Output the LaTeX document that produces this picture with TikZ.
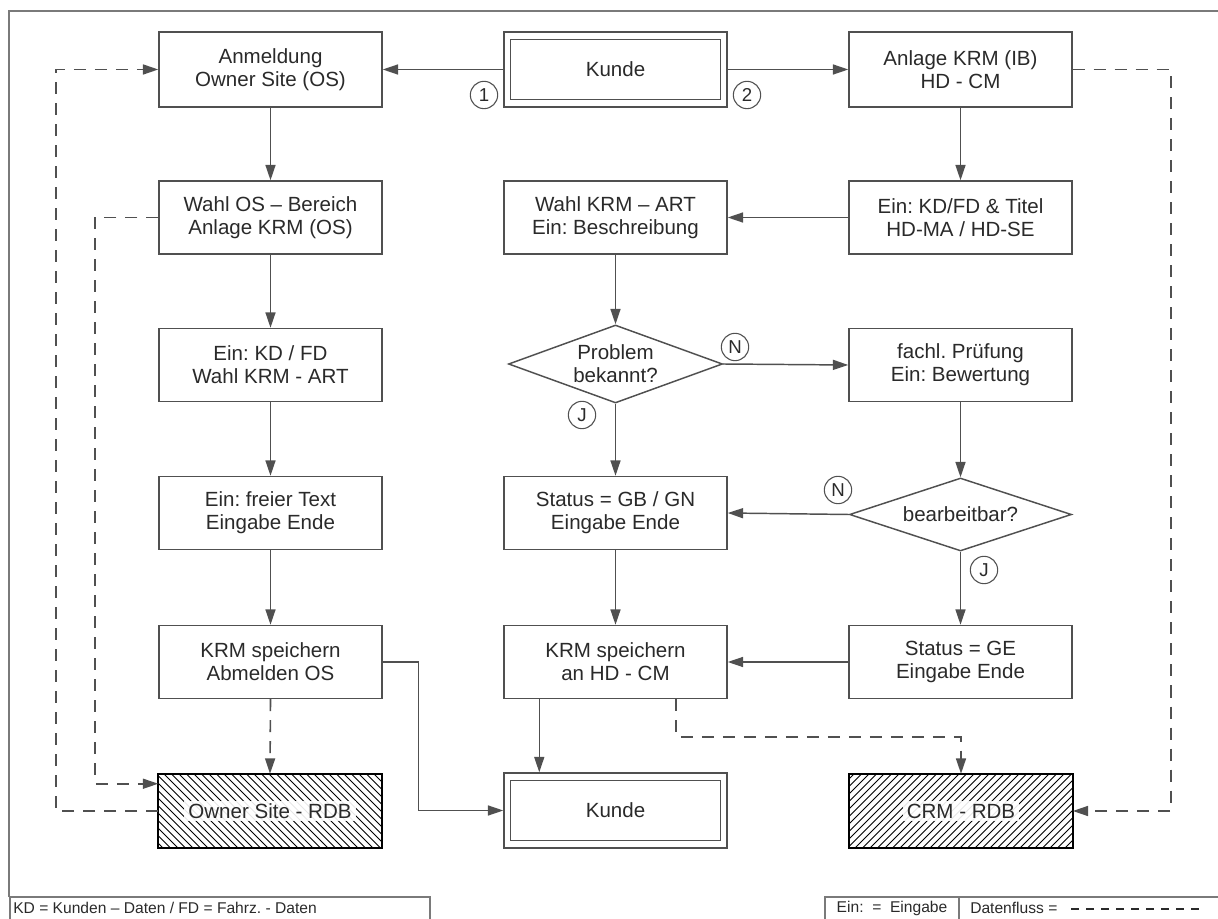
\documentclass[tikz,border=0pt]{standalone}
\usepackage{fontspec}
\setmainfont{Liberation Sans}
\frenchspacing
\usetikzlibrary{arrows.meta,shapes.geometric,calc}
\definecolor{linegray}{HTML}{505050}
\definecolor{framegray}{HTML}{7A7A7A}
\definecolor{txtgray}{HTML}{2A2A2A}
\begin{document}
\begin{tikzpicture}[x=0.75pt,y=-0.75pt,
  >={Triangle[length=11.5pt,width=7.5pt]},
  every node/.style={text=txtgray, font=\fontsize{15.4}{17.4}\selectfont},
  procbox/.style={draw=linegray, line width=1.1pt, fill=white, align=center,
    minimum width=167.25pt, minimum height=54.75pt, inner sep=0pt},
  topbox/.style={procbox, minimum height=56.25pt},
  dbbox/.style={minimum width=167.25pt, minimum height=55.5pt, inner sep=0pt},
  dbframe/.style={black, line width=1.6pt},
  hatch/.style={black, line width=0.6pt},
  decision/.style={diamond, draw=linegray, line width=1.1pt, fill=white, inner sep=0pt},
  dbtext/.style={fill=white, fill opacity=0.9, text opacity=1, inner xsep=3pt, inner ysep=2pt},
  marker/.style={circle, draw=linegray, line width=0.8pt, minimum size=20.5pt,
    inner sep=0pt, font=\fontsize{14}{15}\selectfont},
  conn/.style={draw=linegray, line width=1.1pt},
  dconn/.style={draw=linegray, line width=1.2pt, dash pattern=on 9pt off 6.75pt},
  legendtext/.style={font=\fontsize{11.7}{13}\selectfont, inner sep=0pt},
]
\clip (0,0) rectangle (1218,919);

% outer frame
\draw[framegray, line width=1.5pt] (9,897) -- (9,11) -- (1230,11);

% top row
\node[topbox] (anm) at (270.5,69.5) {Anmeldung\\Owner Site (OS)};
\node[topbox] (k1) at (615.5,69.5) {Kunde};
\draw[linegray, line width=1.1pt] ($(k1.north west)+(7,8)$) rectangle ($(k1.south east)+(-7,-8)$);
\node[topbox] (anl) at (960.5,69.5) {Anlage KRM (IB)\\HD - CM};

% second row
\node[procbox] (wos) at (270.5,217.5) {Wahl OS – Bereich\\Anlage KRM (OS)};
\node[procbox] (wkr) at (615.5,217.5) {Wahl KRM – ART\\Ein: Beschreibung};
\node[procbox] (ekt) at (960.5,217.5) {Ein: KD/FD \& Titel\\HD-MA / HD-SE};

% third row
\node[procbox] (ekd) at (270.5,365) {Ein: KD / FD\\Wahl KRM - ART};
\node[decision, minimum width=160.5pt, minimum height=58.5pt] (pb) at (615.5,364) {};
\node[align=center, inner sep=0pt] (pbt) at (pb) {Problem\\bekannt?};
\node[procbox] (fp) at (960.5,365) {fachl. Prüfung\\Ein: Bewertung};

% fourth row
\node[procbox] (eft) at (270.5,513) {Ein: freier Text\\Eingabe Ende};
\node[procbox] (sgb) at (615.5,513) {Status = GB / GN\\Eingabe Ende};
\node[decision, minimum width=166.5pt, minimum height=54.75pt] (bb) at (960.5,514.5) {};
\node[inner sep=0pt] (bbt) at (bb) {bearbeitbar?};

% fifth row
\node[procbox] (ksa) at (270.5,662) {KRM speichern\\Abmelden OS};
\node[procbox] (ksh) at (615.5,662) {KRM speichern\\an HD - CM};
\node[procbox] (sge) at (960.5,662) {Status = GE\\Eingabe Ende};

% bottom row: data stores (hatched) and customer
\node[dbbox] (osr) at (270,811) {};
\begin{scope}
  \clip (osr.north west) rectangle (osr.south east);
  \foreach \d in {-84,-76.5,...,230} \draw[hatch] (158+\d,774) -- (232+\d,848);
\end{scope}
\draw[dbframe] (osr.north west) rectangle (osr.south east);
\node[dbtext] (osrt) at (osr) {Owner Site - RDB};

\node[topbox] (kb) at (615.5,810.5) {Kunde};
\draw[linegray, line width=1.1pt] ($(kb.north west)+(7,8)$) rectangle ($(kb.south east)+(-7,-8)$);

\node[dbbox] (crm) at (961,811) {};
\begin{scope}
  \clip (crm.north west) rectangle (crm.south east);
  \foreach \d in {-84,-76.5,...,230} \draw[hatch] (849+\d,848) -- (923+\d,774);
\end{scope}
\draw[dbframe] (crm.north west) rectangle (crm.south east);
\node[dbtext] (crmt) at (crm) {CRM - RDB};

% control flow
\draw[conn,->] (k1.west) -- (anm.east);
\draw[conn,->] (k1.east) -- (anl.west);
\draw[conn,->] (anm.south) -- (wos.north);
\draw[conn,->] (wos.south) -- (ekd.north);
\draw[conn,->] (ekd.south) -- (eft.north);
\draw[conn,->] (eft.south) -- (ksa.north);
\draw[conn,->] (anl.south) -- (ekt.north);
\draw[conn,->] (ekt.west) -- (wkr.east);
\draw[conn,->] (wkr.south) -- (pb.north);
\draw[conn,->] (pb.east) -- (fp.west);
\draw[conn,->] (pb.south) -- (sgb.north);
\draw[conn,->] (fp.south) -- (bb.north);
\draw[conn,->] (bb.west) -- (sgb.east);
\draw[conn,->] (bb.south) -- (sge.north);
\draw[conn,->] (sgb.south) -- (ksh.north);
\draw[conn,->] (sge.west) -- (ksh.east);
\draw[conn,->] ($(ksh.south west)+(36,0)$) -- ($(kb.north west)+(36,0)$);
\draw[conn,->] (ksa.east) -- ++(36,0) |- (kb.west);

% data flow
\draw[dconn,->] (ksa.south) -- (osr.north);
\draw[dconn,->] (osr.west) -| ($(anm.west)+(-102,0)$) -- (anm.west);
\draw[dconn,->] (wos.west) -| ($(osr.north west)+(-63,10)$) -- ($(osr.north west)+(0,10)$);
\draw[dconn,->] (anl.east) -- ++(98,0) |- (crm.east);
\draw[dconn,->] ($(ksh.south west)+(173,0)$) |- ($(crm.north)+(0,-37)$) -- (crm.north);

% branch markers
\node[marker] (m1) at (484,95) {1};
\node[marker] (m2) at (747,95) {2};
\node[marker] (n1) at (735,347) {N};
\node[marker] (j1) at (582,415) {J};
\node[marker] (n2) at (838,490) {N};
\node[marker] (j2) at (984,570) {J};

% legend
\draw[framegray, line width=1.1pt] (10,930) -- (10,897) -- (430,897) -- (430,930);
\node[legendtext, anchor=west] (lg1) at (13,908) {KD = Kunden – Daten / FD = Fahrz. - Daten};
\draw[framegray, line width=1.1pt] (825,930) -- (825,897) -- (1230,897);
\draw[framegray, line width=1.1pt] (959,897) -- (959,930);
\node[legendtext] (lg2) at (892,908) {Ein:\ \ =\ \ Eingabe};
\node[legendtext, anchor=west] (lg3) at (970,908) {Datenfluss =};
\coordinate (dl1) at (1071,909);
\coordinate (dl2) at (1205,909);
\draw[txtgray, line width=0.8pt, dash pattern=on 6pt off 5.25pt] (dl1) -- (dl2);
\end{tikzpicture}
\end{document}
